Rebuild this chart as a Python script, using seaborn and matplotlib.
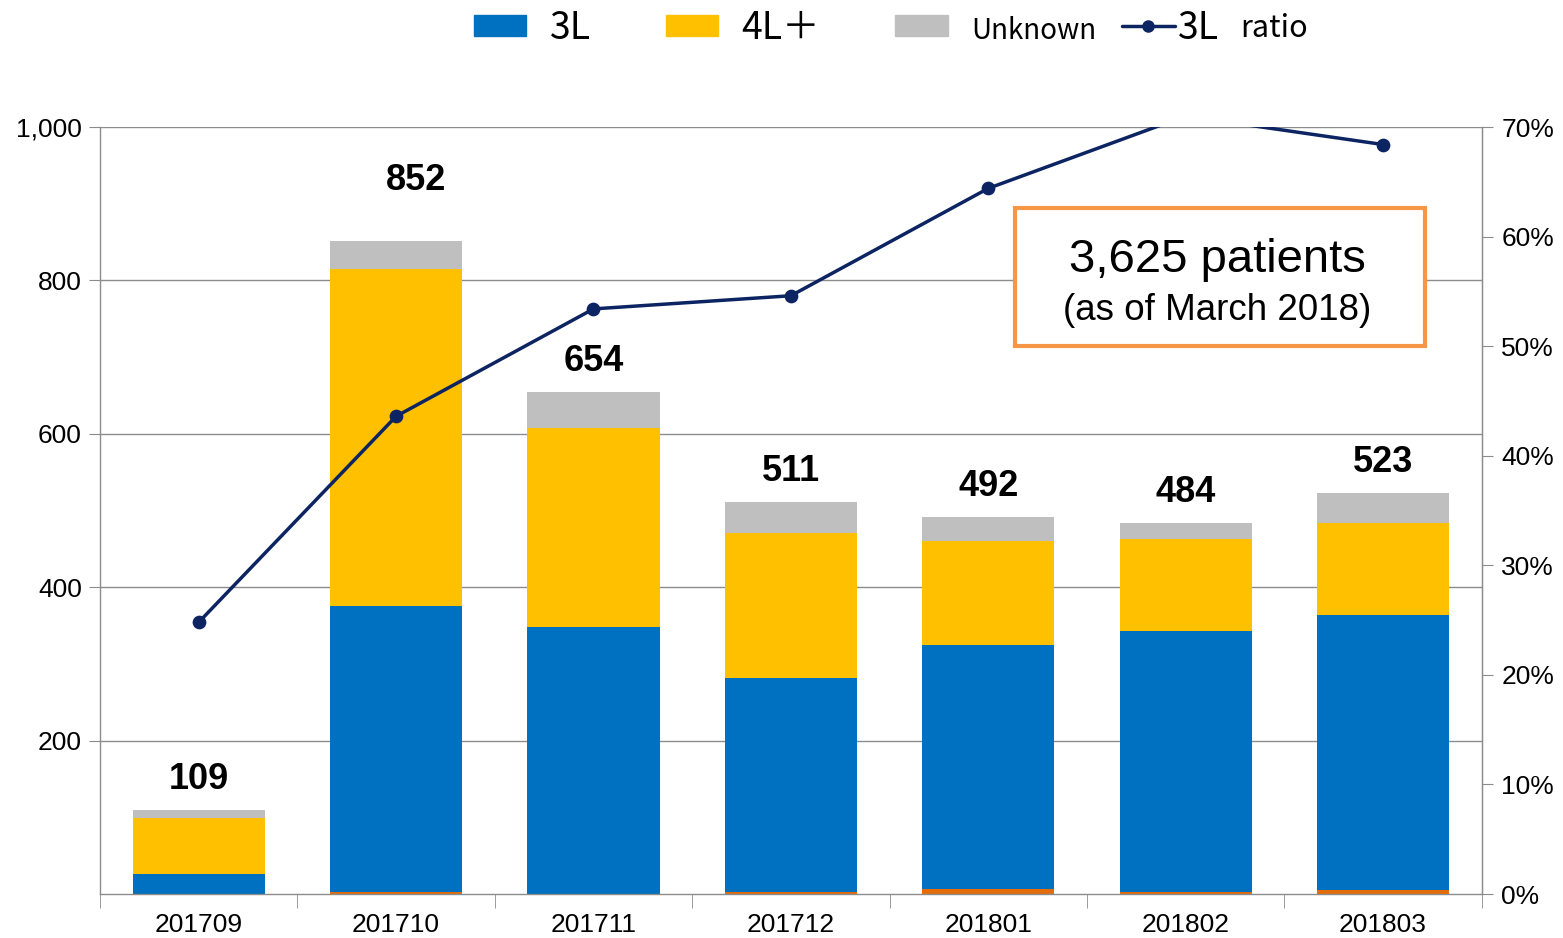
import matplotlib.pyplot as plt
import matplotlib.ticker as mticker
from matplotlib.patches import Patch
from matplotlib.lines import Line2D
import seaborn as sns
import numpy as np

months = ["201709", "201710", "201711", "201712", "201801", "201802", "201803"]
other = [0, 3, 0, 3, 7, 3, 5]
three_l = [26, 372, 348, 279, 318, 340, 359]
four_l = [73, 440, 259, 189, 135, 120, 120]
unknown = [10, 37, 47, 40, 32, 21, 39]
totals = [109, 852, 654, 511, 492, 484, 523]
ratio = [0.248, 0.436, 0.534, 0.546, 0.644, 0.71, 0.684]

c_blue = "#0070C0"
c_yellow = "#FFC000"
c_gray = "#BFBFBF"
c_orange = "#E46C0A"
c_line = "#0D2463"

sns.set_style("white")
plt.rcParams["font.family"] = ["Liberation Sans", "DejaVu Sans"]
plt.rcParams["text.color"] = "black"
plt.rcParams["xtick.labelcolor"] = "black"
plt.rcParams["ytick.labelcolor"] = "black"

fig = plt.figure(figsize=(15.63, 9.38), dpi=100)
ax = fig.add_axes([0.064, 0.0469, 0.884, 0.8177])

# stacked bars drawn as cumulative layers, tallest first
cum1 = np.array(other)
cum2 = cum1 + np.array(three_l)
cum3 = cum2 + np.array(four_l)
cum4 = cum3 + np.array(unknown)
for vals, col in [(cum4, c_gray), (cum3, c_yellow), (cum2, c_blue), (cum1, c_orange)]:
    sns.barplot(x=months, y=vals, color=col, width=0.67, saturation=1,
                linewidth=0, ax=ax, zorder=2)

ax.set_ylim(0, 1000)
ax.set_xlim(-0.5, 6.5)
ax.set_yticks([200, 400, 600, 800, 1000])
ax.yaxis.set_major_formatter(mticker.StrMethodFormatter("{x:,.0f}"))
ax.grid(axis="y", color="#8C8C8C", linewidth=1, zorder=0)
ax.set_axisbelow(True)
ax.spines["top"].set_visible(False)
for s in ["left", "right", "bottom"]:
    ax.spines[s].set_color("#8C8C8C")
    ax.spines[s].set_linewidth(1)
ax.tick_params(axis="y", direction="out", length=8, color="#8C8C8C",
               labelsize=19, left=True, pad=5)
ax.set_xticks(np.arange(7))
ax.set_xticklabels(months, fontsize=19)
ax.set_xticks(np.arange(-0.5, 7, 1), minor=True)
ax.tick_params(axis="x", which="major", length=0, pad=14)
ax.tick_params(axis="x", which="minor", direction="out", length=10,
               color="#8C8C8C", bottom=True)
ax.set_xlabel("")
ax.set_ylabel("")

for i, t in enumerate(totals):
    if i == 1:
        ax.text(i + 0.1, t + 56, str(t), ha="center", va="bottom",
                fontsize=26, fontweight="bold")
    else:
        ax.text(i, t + 17, str(t), ha="center", va="bottom",
                fontsize=26, fontweight="bold")

ax2 = ax.twinx()
sns.pointplot(x=months, y=ratio, color=c_line, markers="o", markersize=8,
              linewidth=2.5, ax=ax2)
ax2.set_xlim(-0.5, 6.5)
ax2.set_ylim(0, 0.7)
ax2.set_yticks(np.arange(0, 0.71, 0.1))
ax2.yaxis.set_major_formatter(mticker.PercentFormatter(1.0, decimals=0))
ax2.tick_params(axis="y", direction="out", length=8, color="#8C8C8C",
                labelsize=19, right=True, pad=6)
ax2.set_ylabel("")
for s in ["top", "left", "bottom"]:
    ax2.spines[s].set_visible(False)
ax2.spines["right"].set_color("#8C8C8C")

ax2.text(0.8085, 0.826, "3,625 patients", transform=ax2.transAxes,
         ha="center", va="center", fontsize=34)
ax2.text(0.8085, 0.761, "(as of March 2018)", transform=ax2.transAxes,
         ha="center", va="center", fontsize=26.5)
box = plt.Rectangle((0.662, 0.7145), 0.2967, 0.180, transform=ax2.transAxes,
                    fill=True, facecolor="white", edgecolor="#F79646",
                    linewidth=3, zorder=1)
ax2.add_patch(box)

leg_font = ["Noto Sans CJK JP", "DejaVu Sans"]
handles = [Patch(color=c_blue), Patch(color=c_yellow), Patch(color=c_gray)]
labels = ["3L", "4L＋", "Unknown"]
leg = fig.legend(handles, labels, loc="center left", bbox_to_anchor=(474 / 1563, 0.97),
                 ncol=3, frameon=False, handlelength=1.4, handleheight=0.5,
                 columnspacing=2.0, handletextpad=0.62, borderpad=0, borderaxespad=0,
                 prop={"family": leg_font, "size": 27})
leg.get_texts()[2].set_fontsize(20)

leg2 = fig.legend([Line2D([], [], color=c_line, marker="o", linewidth=2.5, markersize=8)],
                  ["3L"], loc="center left", bbox_to_anchor=(1122 / 1563, 0.97),
                  frameon=False, handlelength=1.4, handletextpad=0.1,
                  borderpad=0, borderaxespad=0,
                  prop={"family": leg_font, "size": 27})
fig.text(1240 / 1563, 0.97, "ratio", ha="left", va="center", fontsize=22,
         family=leg_font)

fig.savefig("out.png", dpi=100)
